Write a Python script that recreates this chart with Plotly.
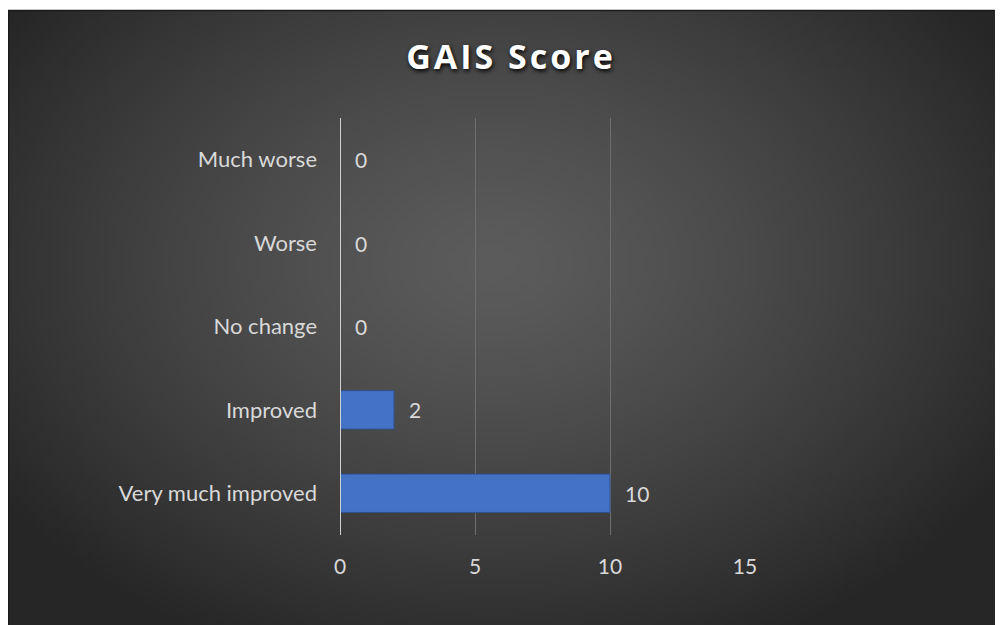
import base64, struct, zlib
import numpy as np
import plotly.graph_objects as go

categories = ["Much worse", "Worse", "No change", "Improved", "Very much improved"]
values = [0, 0, 0, 2, 10]
x_ticks = [0, 5, 10, 15]
title_text = "GAIS Score"

# page body adds an 8px margin, so figure coords = screen coords - 8
OFF = 8
W, H = 1003 - OFF, 625 - OFF
L, R, T, B = 340 - OFF, 745 - OFF, 118 - OFF, 535 - OFF
pw, ph = R - L, B - T

def px2paper_x(px):
    return (px - L) / pw

def px2paper_y(py):
    return (B - py) / ph

# radial gradient background image (style only)
X0, Y0 = 0, 2
iw, ih = 250, 155
xs = np.linspace(X0, W, iw)
ys = np.linspace(Y0, H, ih)
X, Y = np.meshgrid(xs, ys)
cx, cy, rx, ry = 485, 255, 600, 430
d = np.sqrt(((X - cx) / rx) ** 2 + ((Y - cy) / ry) ** 2)
g = 92 - 54 * np.clip(d, 0, 1) ** 1.3
g = np.clip(g, 0, 255).astype(np.uint8)
raw = b"".join(b"\x00" + g[i].tobytes() for i in range(ih))

def chunk(tag, data):
    c = struct.pack(">I", len(data)) + tag + data
    return c + struct.pack(">I", zlib.crc32(tag + data) & 0xffffffff)

png = b"\x89PNG\r\n\x1a\n" + chunk(b"IHDR", struct.pack(">IIBBBBB", iw, ih, 8, 0, 0, 0, 0)) \
      + chunk(b"IDAT", zlib.compress(raw, 9)) + chunk(b"IEND", b"")
uri = "data:image/png;base64," + base64.b64encode(png).decode()

FONT = "Lato"
LABEL_COL = "#d9d9d9"
FS = 22

fig = go.Figure()
fig.add_trace(go.Bar(
    x=values, y=categories, orientation="h",
    width=0.46,
    marker=dict(color="#4472c4", line=dict(color="#2f528f", width=1)),
    hoverinfo="x+y",
))

for c, v in zip(categories, values):
    fig.add_annotation(x=v, y=c, text=str(v), showarrow=False,
                       xanchor="left", xshift=13,
                       font=dict(family=FONT, size=FS - 1, color=LABEL_COL))

fig.add_layout_image(dict(
    source=uri, xref="paper", yref="paper",
    x=px2paper_x(X0), y=px2paper_y(Y0),
    sizex=(W - X0) / pw, sizey=(H - Y0) / ph,
    xanchor="left", yanchor="top", sizing="stretch", layer="below",
))
fig.add_shape(type="rect", xref="paper", yref="paper",
              x0=px2paper_x(X0 + 0.5), x1=px2paper_x(W + 2),
              y0=px2paper_y(H + 2), y1=px2paper_y(Y0 + 0.5),
              line=dict(color="#1a1a1a", width=1.5), fillcolor="rgba(0,0,0,0)",
              layer="above")

fig.update_layout(
    width=W, height=H,
    margin=dict(l=L, r=W - R, t=T, b=H - B, pad=0),
    paper_bgcolor="white", plot_bgcolor="rgba(0,0,0,0)",
    showlegend=False,
    bargap=0.54,
    title=dict(text='<span style="letter-spacing:3px">' + title_text + '</span>',
               x=(511 - OFF) / W, xanchor="center",
               y=1 - (57 - OFF) / H, yanchor="middle",
               font=dict(family="Open Sans", size=34, color="#ffffff", weight="bold",
                         shadow="1px 2px 4px #000000")),
    xaxis=dict(range=[0, 15], tickvals=x_ticks, showgrid=True,
               gridcolor="#6e6e6e", gridwidth=1, zeroline=False,
               showline=False, ticks="", ticklabelstandoff=17,
               tickfont=dict(family=FONT, size=FS - 1, color=LABEL_COL),
               fixedrange=True),
    yaxis=dict(autorange="reversed", showgrid=False, zeroline=False,
               showline=False, ticks="", ticklabelstandoff=22,
               tickfont=dict(family=FONT, size=FS, color=LABEL_COL),
               fixedrange=True),
)
# vertical axis line at 0
fig.add_shape(type="line", xref="x", yref="paper", x0=0, x1=0, y0=0, y1=1,
              line=dict(color="#d0d0d0", width=2), layer="above")

fig.write_html("out.html")
